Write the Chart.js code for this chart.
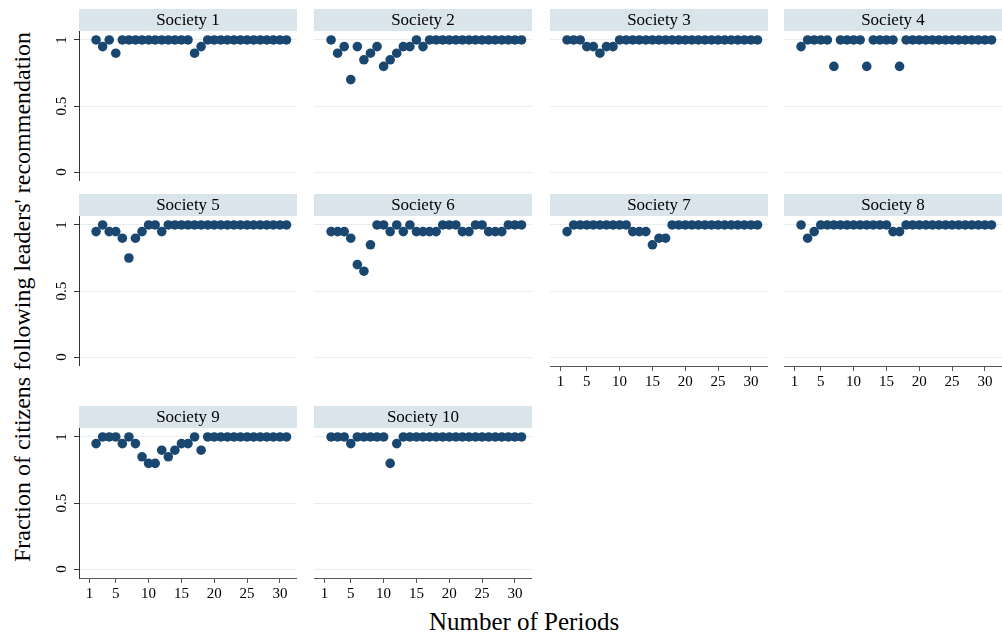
<!DOCTYPE html>
<html>
<head>
<meta charset="utf-8">
<title>Fraction of citizens following leaders' recommendation</title>
<script src="https://cdn.jsdelivr.net/npm/chart.js@4.4.1/dist/chart.umd.min.js"></script>
<style>
  body { margin: 0; background: #fff; }
  #fig { position: relative; width: 1002px; height: 636px; overflow: hidden; background: #fff;
         font-family: 'Liberation Serif', 'DejaVu Serif', serif; color: #000; }
  .panel { position: absolute; }
  #ytitle { position: absolute; left: 22px; top: 297px; transform: translate(-50%, -50%) rotate(-90deg);
            white-space: nowrap; font-size: 24px; }
  #xtitle { position: absolute; left: 524px; top: 622px; transform: translate(-50%, -50%);
            white-space: nowrap; font-size: 25px; }
</style>
</head>
<body>
<div id="fig">
  <div id="ytitle">Fraction of citizens following leaders' recommendation</div>
  <div id="xtitle">Number of Periods</div>
</div>
<script>
// periods 2..31
const periods = [2, 3, 4, 5, 6, 7, 8, 9, 10, 11, 12, 13, 14, 15, 16, 17, 18, 19, 20, 21, 22, 23, 24, 25, 26, 27, 28, 29, 30, 31];
const xTicks = [1, 5, 10, 15, 20, 25, 30];
const yTicks = [0, 0.5, 1];
const societyNames = ['Society 1', 'Society 2', 'Society 3', 'Society 4', 'Society 5',
  'Society 6', 'Society 7', 'Society 8', 'Society 9', 'Society 10'];

const society1 = [1, 0.95, 1, 0.9, 1, 1, 1, 1, 1, 1, 1, 1, 1, 1, 1, 0.9, 0.95, 1, 1, 1, 1, 1, 1, 1, 1, 1, 1, 1, 1, 1];
const society2 = [1, 0.9, 0.95, 0.7, 0.95, 0.85, 0.9, 0.95, 0.8, 0.85, 0.9, 0.95, 0.95, 1, 0.95, 1, 1, 1, 1, 1, 1, 1, 1, 1, 1, 1, 1, 1, 1, 1];
const society3 = [1, 1, 1, 0.95, 0.95, 0.9, 0.95, 0.95, 1, 1, 1, 1, 1, 1, 1, 1, 1, 1, 1, 1, 1, 1, 1, 1, 1, 1, 1, 1, 1, 1];
const society4 = [0.95, 1, 1, 1, 1, 0.8, 1, 1, 1, 1, 0.8, 1, 1, 1, 1, 0.8, 1, 1, 1, 1, 1, 1, 1, 1, 1, 1, 1, 1, 1, 1];
const society5 = [0.95, 1, 0.95, 0.95, 0.9, 0.75, 0.9, 0.95, 1, 1, 0.95, 1, 1, 1, 1, 1, 1, 1, 1, 1, 1, 1, 1, 1, 1, 1, 1, 1, 1, 1];
const society6 = [0.95, 0.95, 0.95, 0.9, 0.7, 0.65, 0.85, 1, 1, 0.95, 1, 0.95, 1, 0.95, 0.95, 0.95, 0.95, 1, 1, 1, 0.95, 0.95, 1, 1, 0.95, 0.95, 0.95, 1, 1, 1];
const society7 = [0.95, 1, 1, 1, 1, 1, 1, 1, 1, 1, 0.95, 0.95, 0.95, 0.85, 0.9, 0.9, 1, 1, 1, 1, 1, 1, 1, 1, 1, 1, 1, 1, 1, 1];
const society8 = [1, 0.9, 0.95, 1, 1, 1, 1, 1, 1, 1, 1, 1, 1, 1, 0.95, 0.95, 1, 1, 1, 1, 1, 1, 1, 1, 1, 1, 1, 1, 1, 1];
const society9 = [0.95, 1, 1, 1, 0.95, 1, 0.95, 0.85, 0.8, 0.8, 0.9, 0.85, 0.9, 0.95, 0.95, 1, 0.9, 1, 1, 1, 1, 1, 1, 1, 1, 1, 1, 1, 1, 1];
const society10 = [1, 1, 1, 0.95, 1, 1, 1, 1, 1, 0.8, 0.95, 1, 1, 1, 1, 1, 1, 1, 1, 1, 1, 1, 1, 1, 1, 1, 1, 1, 1, 1];

const societies = [society1, society2, society3, society4, society5, society6, society7, society8, society9, society10];
const panelsWithXAxis = [6, 7, 8, 9];

// layout of the grid (Stata-like by-graph)
const colLeft = [79, 314, 550, 784];
const rowTop = [9, 194, 406];
const plotW = 218;
const headerH = 22;
const plotH = 150;
const yAxisW = 30;
const xAxisH = 28;

const markerColor = '#1a476f';
const stripColor = '#d9e5eb';
const gridColor = '#e6eef0';
const axisColor = '#333';
const serif = "'Liberation Serif', 'DejaVu Serif', serif";

const stripPlugin = {
  id: 'strip',
  beforeDraw(chart) {
    const t = chart.titleBlock;
    const a = chart.chartArea;
    if (!t) return;
    const ctx = chart.ctx;
    ctx.save();
    ctx.fillStyle = stripColor;
    ctx.fillRect(a.left, t.top, a.right - a.left, t.bottom - t.top);
    ctx.restore();
  }
};

function noPadding(s) {
  s.paddingTop = 0;
  s.paddingBottom = 0;
  s.paddingLeft = 0;
  s.paddingRight = 0;
}

function renderPanel(i) {
  const row = Math.floor(i / 4);
  const col = i % 4;
  const hasY = col === 0;
  const hasX = panelsWithXAxis.includes(i);

  const div = document.createElement('div');
  div.className = 'panel';
  const w = plotW + (hasY ? yAxisW : 0);
  const h = headerH + plotH + (hasX ? xAxisH : 0);
  div.style.left = (colLeft[col] - (hasY ? yAxisW : 0)) + 'px';
  div.style.top = rowTop[row] + 'px';
  div.style.width = w + 'px';
  div.style.height = h + 'px';
  const canvas = document.createElement('canvas');
  div.appendChild(canvas);
  document.getElementById('fig').appendChild(div);

  const points = periods.map((p, k) => ({ x: p, y: societies[i][k] }));

  new Chart(canvas.getContext('2d'), {
    type: 'scatter',
    data: {
      datasets: [{
        label: societyNames[i],
        data: points,
        backgroundColor: markerColor,
        borderWidth: 0,
        pointRadius: 4.8,
        pointHoverRadius: 4.8
      }]
    },
    options: {
      responsive: true,
      maintainAspectRatio: false,
      animation: false,
      events: [],
      layout: { padding: 0, autoPadding: false },
      plugins: {
        legend: { display: false },
        tooltip: { enabled: false },
        title: {
          display: true,
          text: societyNames[i],
          fullSize: false,
          color: '#000',
          font: { family: serif, size: 17, weight: 'normal', lineHeight: 1.1 },
          padding: { top: 2, bottom: 1.3 }
        }
      },
      scales: {
        x: {
          type: 'linear',
          display: hasX,
          min: -0.6,
          max: 32.6,
          afterBuildTicks: s => { s.ticks = xTicks.map(v => ({ value: v })); },
          afterFit: s => { s.height = hasX ? xAxisH : 0; noPadding(s); },
          grid: { drawOnChartArea: false, drawTicks: true, tickLength: 5, color: '#555' },
          border: { display: true, color: '#555' },
          ticks: { color: '#000', padding: 2, maxRotation: 0, autoSkip: false,
                   font: { family: serif, size: 15 } }
        },
        y: {
          type: 'linear',
          min: -0.068,
          max: 1.068,
          afterBuildTicks: s => { s.ticks = yTicks.map(v => ({ value: v })); },
          afterFit: s => { s.width = hasY ? yAxisW : 0; noPadding(s); },
          grid: { color: gridColor, drawTicks: hasY, tickLength: 5, tickColor: axisColor },
          border: { display: hasY, color: axisColor },
          ticks: { display: hasY, color: '#000', padding: 3, minRotation: 90, maxRotation: 90,
                   crossAlign: 'center', callback: v => String(v),
                   font: { family: serif, size: 15 } }
        }
      }
    },
    plugins: [stripPlugin]
  });
}

societies.forEach((s, i) => renderPanel(i));
</script>
</body>
</html>
